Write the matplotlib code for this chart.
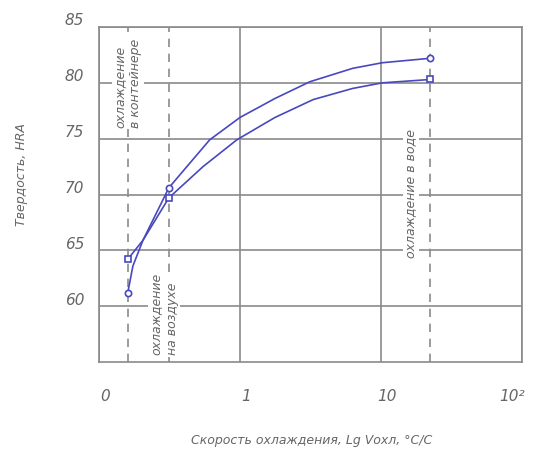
import matplotlib
matplotlib.use("Agg")
from matplotlib import pyplot as plt

# значения (ось X логарифмическая)
x_circ = [0.16, 0.174, 0.205, 0.313, 0.42, 0.61, 1.0, 1.77, 3.13, 6.3, 10.2, 22.3]
y_circ = [61.2, 63.6, 65.9, 70.6, 72.5, 74.9, 76.9, 78.6, 80.1, 81.3, 81.8, 82.2]
x_sq = [0.16, 0.205, 0.313, 0.547, 0.95, 1.77, 3.3, 6.3, 10.2, 22.3]
y_sq = [64.2, 65.9, 69.7, 72.5, 74.9, 76.9, 78.5, 79.5, 80.0, 80.3]

# точки с маркерами
mark_x = [0.16, 0.313, 22.3]
mark_circ = [61.2, 70.6, 82.2]
mark_sq = [64.2, 69.7, 80.3]

x_grid = [0.1, 1, 10, 100]
x_labels = ["0", "1", "10", "10²"]
y_ticks = [60, 65, 70, 75, 80, 85]
cool_x = [0.16, 0.313, 22.3]

line_c = "#4848c0"
gray = "#8a8a8a"
txt_c = "#666666"
font = ["DejaVu Sans"]

fig = plt.figure(figsize=(5.33, 4.54), dpi=100)
ax = fig.add_axes([0.1857, 0.2026, 0.7937, 0.7379])
ax.set_xscale("log")
ax.set_xlim(0.1, 100)
ax.set_ylim(55, 85)

# сетка
for xv in x_grid:
    ax.axvline(xv, color=gray, lw=1.2, zorder=1)
for yv in y_ticks:
    ax.axhline(yv, color=gray, lw=1.2, zorder=1)
for xv in cool_x:
    ax.axvline(xv, color=gray, lw=1.2, ls=(0, (5, 4)), zorder=1)
for s in ax.spines.values():
    s.set_color(gray)
    s.set_linewidth(1.2)
ax.set_xticks([])
ax.set_yticks([])
ax.minorticks_off()

ax.plot(x_circ, y_circ, color=line_c, lw=1.2, zorder=3)
ax.plot(x_sq, y_sq, color=line_c, lw=1.2, zorder=3)
ax.plot(mark_x, mark_circ, ls="none", marker="o", ms=4.5, mfc="white", mec=line_c, mew=1.2, zorder=4)
ax.plot(mark_x, mark_sq, ls="none", marker="s", ms=4.5, mfc="white", mec=line_c, mew=1.2, zorder=4)

# подписи делений
for yv in y_ticks:
    ax.text(-0.035, yv + 0.55, str(yv), transform=ax.get_yaxis_transform(),
            ha="right", va="center", fontsize=11, style="italic", color=txt_c, family=font)
for xv, lab in zip(x_grid, x_labels):
    if xv == x_grid[-1]:
        ax.text(xv * 1.04, -0.08, lab, transform=ax.get_xaxis_transform(),
                ha="right", va="top", fontsize=11, style="italic", color=txt_c, family=font)
    else:
        ax.text(xv * 1.1, -0.08, lab, transform=ax.get_xaxis_transform(),
                ha="center", va="top", fontsize=11, style="italic", color=txt_c, family=font)

box = dict(facecolor="white", edgecolor="none", pad=1)
ax.text(0.16, 76.0, "охлаждение\nв контейнере", rotation=90, ha="center", va="bottom",
        multialignment="left", fontsize=9, style="italic", color=txt_c, family=font,
        bbox=box, zorder=2, linespacing=1.3)
ax.text(0.29, 55.6, "охлаждение\nна воздухе", rotation=90, ha="center", va="bottom",
        multialignment="left", fontsize=9, style="italic", color=txt_c, family=font,
        bbox=box, zorder=2, linespacing=1.3)
ax.text(16.3, 64.3, "охлаждение в воде", rotation=90, ha="center", va="bottom",
        fontsize=9, style="italic", color=txt_c, family=font, bbox=box, zorder=2)

fig.text(0.04, 0.615, "Твердость, HRA", rotation=90, ha="center", va="center",
         fontsize=9, style="italic", color=txt_c, family=font)
fig.text(0.585, 0.03, "Скорость охлаждения, Lg Vохл, °С/С", ha="center", va="center",
         fontsize=9, style="italic", color=txt_c, family=font)

fig.savefig("out.png", dpi=100)
